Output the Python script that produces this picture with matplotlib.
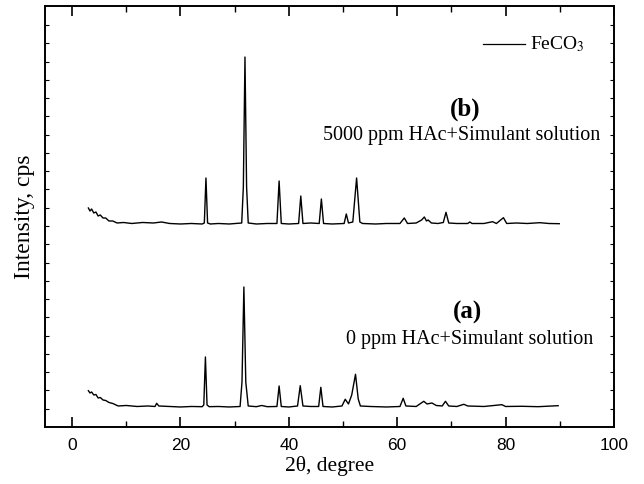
import numpy as np
import matplotlib
matplotlib.use("Agg")
import matplotlib.pyplot as plt

# pattern (a): 0 ppm HAc
xa = [3.0, 3.3, 3.6, 4.0, 4.4, 4.8, 5.2, 5.7, 6.2, 6.8, 7.5, 8.5, 10, 12, 14,
      15.3, 15.6, 16.0, 18, 20, 22, 24.0, 24.3, 24.6, 24.9, 25.3, 27, 29,
      31.0, 31.35, 31.7, 32.05, 32.5, 34, 35, 36, 37.8, 38.2, 38.6, 40, 41.6,
      42.1, 42.6, 44, 45.5, 45.9, 46.3, 48, 49.8, 50.4, 51.0, 51.6, 52.3,
      52.8, 53.2, 55, 58, 60.5, 61.1, 61.6, 63.5, 64.9, 65.5, 66.4, 67.2,
      68.3, 68.9, 69.5, 71, 72.3, 73, 76, 79.3, 80, 83, 86, 89.7]
ya = [36.3, 34, 35, 32, 32.5, 29, 29.5, 27, 26.5, 24.5, 23.5, 21, 21.5, 20.5, 21,
      20.5, 23.7, 21, 20.5, 20, 20.5, 20.3, 22, 70, 22, 20.3, 20.5, 20,
      20.5, 45, 140, 45, 21, 20.3, 21.5, 20.3, 20.5, 41, 20.5, 20, 21,
      41.3, 21, 20.5, 20.5, 39.7, 20.5, 20, 21, 27.7, 23, 32, 52.7,
      28, 21, 20.5, 20, 20.5, 28.7, 21, 20.5, 25.7, 23, 24, 21.5,
      21, 25.7, 21, 20.5, 22.7, 21, 20.5, 22.3, 20.5, 20.7, 20.3, 21.3]

# pattern (b): 5000 ppm HAc
xb = [3.0, 3.3, 3.6, 4.0, 4.4, 4.8, 5.2, 5.7, 6.2, 6.8, 7.5, 8.3, 9.5, 11, 13,
      15, 16.5, 18, 20, 22, 24.0, 24.4, 24.7, 25.0, 25.5, 27, 29, 31.3, 31.6,
      31.9, 32.2, 32.5, 34, 36, 37.8, 38.2, 38.6, 40, 41.8, 42.2, 42.6, 44,
      45.6, 46.0, 46.4, 48, 50.2, 50.6, 51.0, 51.8, 52.5, 53.1, 53.6, 56, 58,
      60.5, 61.3, 61.9, 63.5, 64.5, 65.0, 65.4, 65.7, 66.3, 67.5, 68.5, 69.0,
      69.5, 71, 73.0, 73.4, 73.8, 76, 77.6, 78.3, 79.6, 80.2, 82, 84, 86.3,
      88, 89.9]
yb = [219, 216, 218, 214, 215, 211, 212, 209, 209, 206, 206, 204, 204.5, 203.5, 204.5,
      204, 205, 203.5, 203, 203.5, 203, 204, 249, 204, 203, 203.5, 203, 204, 240,
      370, 240, 204, 203, 203.5, 203.5, 246, 203.5, 203, 203.5, 231, 203.5, 204,
      203.5, 228, 203.5, 203, 203.5, 213, 204, 205, 249, 205, 203.5, 203, 203.5,
      203.5, 209, 203.5, 204, 207, 210, 206, 207, 204, 203.5, 204.5, 214.7,
      204, 203.5, 203.5, 205, 203.5, 203.5, 205.3, 203.5, 209.3, 203.5, 204, 203.5, 204.3,
      203.5, 203.3]

serif = "Liberation Serif"
sans = "Liberation Sans"

fig = plt.figure(figsize=(6.44, 4.84), dpi=100)
ax = fig.add_axes([0.0699, 0.1178, 0.8835, 0.8698])

ax.plot(xa, ya, color="black", lw=1.0)
ax.plot(xb, yb, color="black", lw=1.0)

ax.set_xlim(-5, 100)
ax.set_ylim(0, 421)
ax.set_xticks(np.arange(0, 101, 20))
ax.set_xticks(np.arange(10, 100, 20), minor=True)
ax.set_yticks(np.arange(1, 23) * 18.27)
ax.set_yticklabels([])
ax.tick_params(axis="x", which="major", direction="in", length=7, width=1.2,
               labelsize=12.5, pad=8, top=True)
ax.tick_params(axis="x", which="minor", direction="in", length=4, width=1.0, top=True)
ax.tick_params(axis="y", which="major", direction="in", length=3, width=0.8, right=True)
for lab in ax.get_xticklabels():
    lab.set_fontfamily(sans)
for s in ax.spines.values():
    s.set_linewidth(1.4)

ax.set_xlabel("2θ, degree", fontfamily=serif, fontsize=15.5, labelpad=2)
ax.set_ylabel("Intensity, cps", fontfamily=serif, fontsize=17, labelpad=4)

# legend-like key
ax.plot([75.8, 83.6], [383, 383], color="black", lw=0.9)
ax.text(84.5, 383, "FeCO$_3$", fontfamily=serif, fontsize=14, va="center",
        math_fontfamily="stix")

ax.text(72.5, 318, "(b)", fontfamily=serif, fontsize=18, fontweight="bold",
        ha="center", va="center")
ax.text(71.8, 291, "5000 ppm HAc+Simulant solution", fontfamily=serif, fontsize=14.5,
        ha="center", va="center")
ax.text(72.9, 115, "(a)", fontfamily=serif, fontsize=18, fontweight="bold",
        ha="center", va="center")
ax.text(73.4, 87, "0 ppm HAc+Simulant solution", fontfamily=serif, fontsize=14.5,
        ha="center", va="center")

fig.savefig("out.png", dpi=100)
